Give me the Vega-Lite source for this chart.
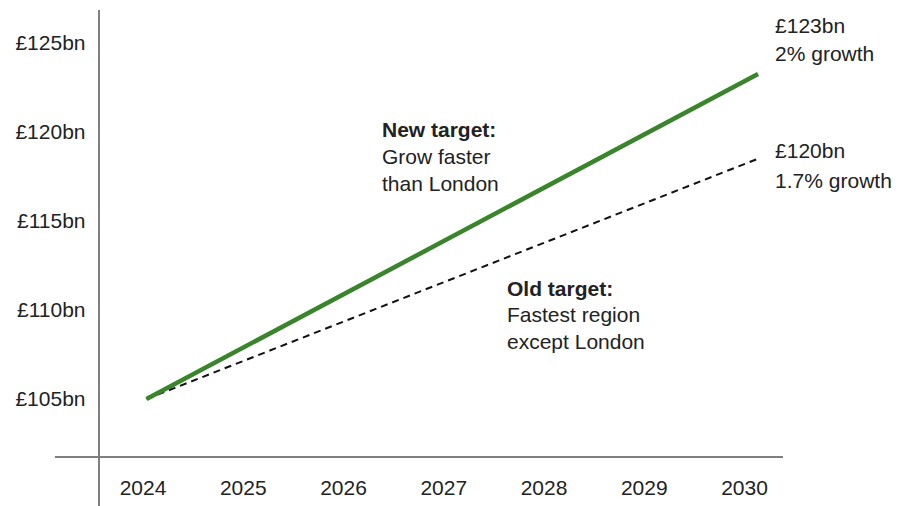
{
  "$schema": "https://vega.github.io/schema/vega-lite/v6.json",
  "width": 684,
  "height": 447,
  "autosize": "none",
  "padding": {"left": 99, "top": 10, "right": 116, "bottom": 49},
  "background": "white",
  "config": {
    "view": {"stroke": null},
    "font": "Liberation Sans",
    "text": {"font": "Liberation Sans"}
  },
  "layer": [
    {
      "data": {"values": [{"x": 2023.566, "y": 98.9, "y2": 126.854}]},
      "mark": {"type": "rule", "color": "#7f7f7f", "strokeWidth": 2},
      "encoding": {
        "x": {"field": "x", "type": "quantitative", "scale": {"domain": [2023.566, 2030.389], "nice": false, "zero": false},
          "axis": {"values": [2024, 2025, 2026, 2027, 2028, 2029, 2030], "format": "d", "title": null, "grid": false, "domain": false, "ticks": false, "tickSize": 0, "labelFont": "Liberation Sans", "labelFontSize": 21, "labelColor": "#222222", "labelBaseline": "middle", "labelPadding": 31, "labelFlush": false}},
        "y": {"field": "y", "type": "quantitative", "scale": {"domain": [101.742, 126.854], "nice": false, "zero": false},
          "axis": {"values": [105, 110, 115, 120, 125], "labelExpr": "'£' + datum.value + 'bn'", "title": null, "grid": false, "domain": false, "ticks": false, "tickSize": 0, "labelFont": "Liberation Sans", "labelFontSize": 21, "labelColor": "#222222", "labelPadding": 14, "labelBaseline": "middle", "labelFlush": false}},
        "y2": {"field": "y2"}
      }
    },
    {
      "data": {"values": [{"x": 2023.127, "x2": 2030.389, "y": 101.742}]},
      "mark": {"type": "rule", "color": "#7f7f7f", "strokeWidth": 2},
      "encoding": {
        "x": {"field": "x", "type": "quantitative"},
        "x2": {"field": "x2"},
        "y": {"field": "y", "type": "quantitative"}
      }
    },
    {
      "data": {"values": [{"year": 2024.04, "value": 105}, {"year": 2030.14, "value": 118.5}]},
      "mark": {"type": "line", "color": "#111111", "strokeWidth": 2, "strokeDash": [7, 5]},
      "encoding": {
        "x": {"field": "year", "type": "quantitative"},
        "y": {"field": "value", "type": "quantitative"}
      }
    },
    {
      "data": {"values": [{"year": 2024.04, "value": 105}, {"year": 2030.14, "value": 123.26}]},
      "mark": {"type": "line", "color": "#3a852b", "strokeWidth": 4.5},
      "encoding": {
        "x": {"field": "year", "type": "quantitative"},
        "y": {"field": "value", "type": "quantitative"}
      }
    },
    {
      "data": {"values": [
        {"x": 2030.31, "y": 125.9, "label": "£123bn"},
        {"x": 2030.31, "y": 124.33, "label": "2% growth"},
        {"x": 2030.31, "y": 118.88, "label": "£120bn"},
        {"x": 2030.31, "y": 117.19, "label": "1.7% growth"},
        {"x": 2026.389, "y": 118.54, "label": "Grow faster"},
        {"x": 2026.389, "y": 117.02, "label": "than London"},
        {"x": 2027.636, "y": 109.66, "label": "Fastest region"},
        {"x": 2027.636, "y": 108.15, "label": "except London"}
      ]},
      "mark": {"type": "text", "align": "left", "baseline": "middle", "fontSize": 21, "color": "#222222", "font": "Liberation Sans"},
      "encoding": {
        "x": {"field": "x", "type": "quantitative"},
        "y": {"field": "y", "type": "quantitative"},
        "text": {"field": "label"}
      }
    },
    {
      "data": {"values": [
        {"x": 2026.389, "y": 120.06, "label": "New target:"},
        {"x": 2027.636, "y": 111.12, "label": "Old target:"}
      ]},
      "mark": {"type": "text", "align": "left", "baseline": "middle", "fontSize": 21, "fontWeight": "bold", "color": "#222222", "font": "Liberation Sans"},
      "encoding": {
        "x": {"field": "x", "type": "quantitative"},
        "y": {"field": "y", "type": "quantitative"},
        "text": {"field": "label"}
      }
    }
  ]
}
